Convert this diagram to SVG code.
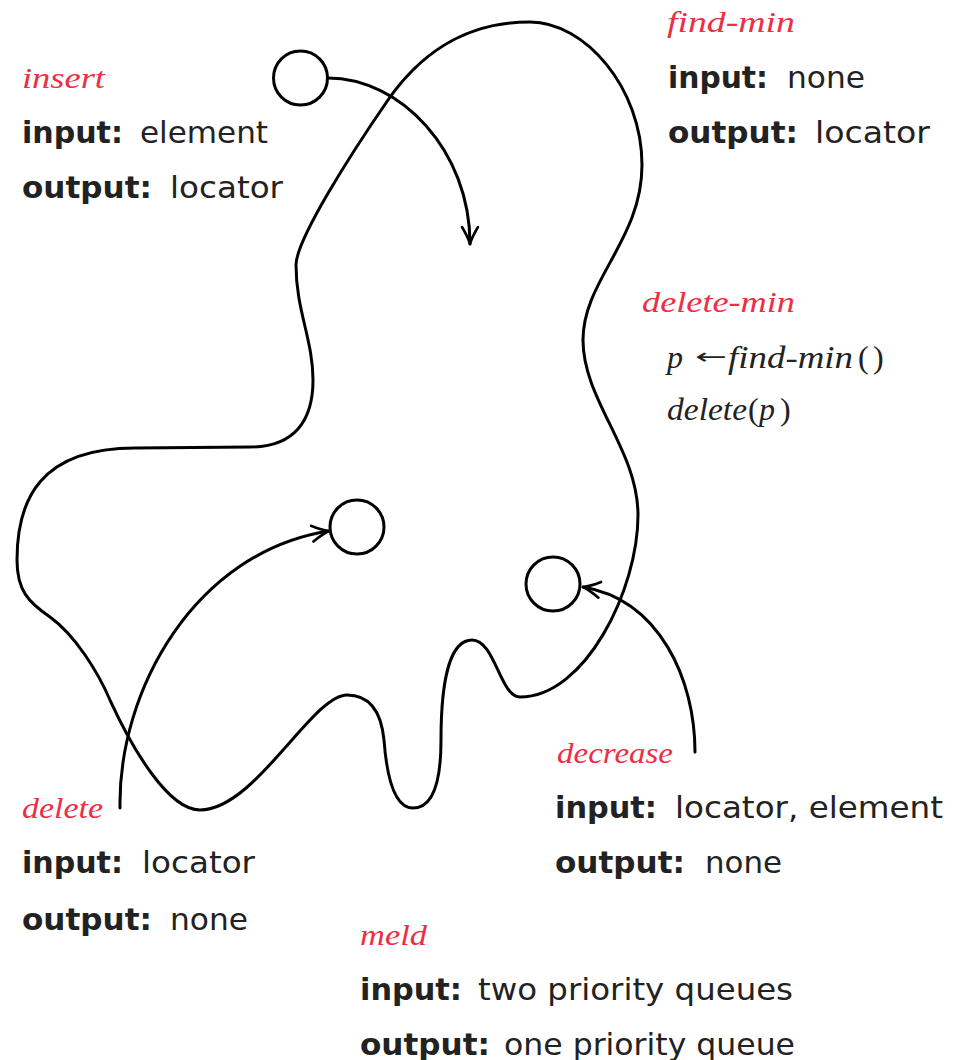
<svg xmlns="http://www.w3.org/2000/svg" width="959" height="1060" viewBox="0 0 959 1060">
<style>
.ln{fill:none;stroke:#000;stroke-width:3;stroke-linecap:round}
.lab{font-family:"Liberation Serif",serif;font-style:italic;font-size:30px;fill:#ec2f45}
.b{font-family:"DejaVu Sans",sans-serif;font-weight:bold;font-size:30px;fill:#222}
.r{font-family:"DejaVu Sans",sans-serif;font-size:30px;fill:#222}
.mi{font-family:"Liberation Serif",serif;font-style:italic;font-size:32px;fill:#222}
.mr{font-family:"Liberation Serif",serif;font-size:32px;fill:#222}
.ar{font-family:"DejaVu Sans",sans-serif;font-size:22px;fill:#222}
</style>
<defs>
<marker id="ah" markerUnits="userSpaceOnUse" viewBox="-20 -10 22 20" refX="0" refY="0" markerWidth="22" markerHeight="20" orient="auto">
<path d="M-17,-8 Q-7,-2 0,0 Q-7,2 -17,8" fill="none" stroke="#000" stroke-width="2.6" stroke-linecap="round" stroke-linejoin="round"/>
</marker>
</defs>
<g id="queue">
<path class="ln" d="M530,22 C585,22 642,88 642,165 C642,240 583,280 583,340 C583,400 638,450 638,515 C638,590 585,697 520,697 C500,697 495,640 472,640 C450,640 441,680 441,740 C441,790 430,808 413,808 C395,808 387,780 384,740 C381,710 368,695 347,695 C312,695 255,810 200,810 C168,810 132,748 110,700 C98,672 75,635 50,617 C28,602 17,590 17,560 C17,500 40,448 135,448 L250,447 C295,447 313,420 313,380 C313,340 296,310 296,265 C296,240 350,155 388,100 C430,40 480,22 530,22 Z"/>
</g>
<g id="node-insert-item"><circle class="ln" cx="300.5" cy="78" r="27"/></g>
<g id="node-delete-item"><circle class="ln" cx="357" cy="527" r="27"/></g>
<g id="node-decrease-item"><circle class="ln" cx="553" cy="584" r="27"/></g>
<g id="connectors">
<path class="ln" d="M328,78 C400,78 470,150 470,244" marker-end="url(#ah)"/>
<path class="ln" d="M120,808 C118,690 195,552 329,531" marker-end="url(#ah)"/>
<path class="ln" d="M695,752 C695,680 660,600 583,587" marker-end="url(#ah)"/>
</g>
<g id="node-insert">
<text class="lab" x="22" y="88" textLength="83" lengthAdjust="spacingAndGlyphs">insert</text>
<text class="b" x="22" y="143" textLength="101" lengthAdjust="spacingAndGlyphs">input:</text>
<text class="r" x="140" y="143" textLength="128" lengthAdjust="spacingAndGlyphs">element</text>
<text class="b" x="22" y="198" textLength="130" lengthAdjust="spacingAndGlyphs">output:</text>
<text class="r" x="170" y="198" textLength="113" lengthAdjust="spacingAndGlyphs">locator</text>
</g>
<g id="node-find-min">
<text class="lab" x="667" y="32" textLength="128" lengthAdjust="spacingAndGlyphs">find-min</text>
<text class="b" x="668" y="88" textLength="100" lengthAdjust="spacingAndGlyphs">input:</text>
<text class="r" x="787" y="88" textLength="78" lengthAdjust="spacingAndGlyphs">none</text>
<text class="b" x="668" y="143" textLength="130" lengthAdjust="spacingAndGlyphs">output:</text>
<text class="r" x="815" y="143" textLength="115" lengthAdjust="spacingAndGlyphs">locator</text>
</g>
<g id="node-delete-min">
<text class="lab" x="642" y="312" textLength="153" lengthAdjust="spacingAndGlyphs">delete-min</text>
<text class="mi" x="667" y="368">p</text>
<text class="ar" x="695" y="364" textLength="32" lengthAdjust="spacingAndGlyphs">←</text>
<text class="mi" x="728" y="368" textLength="125" lengthAdjust="spacingAndGlyphs">find-min</text>
<text class="mr" x="858" y="368">(</text>
<text class="mr" x="873" y="368">)</text>
<text class="mi" x="667" y="420" textLength="80" lengthAdjust="spacingAndGlyphs">delete</text>
<text class="mr" x="748" y="420">(</text>
<text class="mi" x="759" y="420">p</text>
<text class="mr" x="780" y="420">)</text>
</g>
<g id="node-delete">
<text class="lab" x="22" y="818" textLength="81" lengthAdjust="spacingAndGlyphs">delete</text>
<text class="b" x="22" y="873" textLength="101" lengthAdjust="spacingAndGlyphs">input:</text>
<text class="r" x="142" y="873" textLength="113" lengthAdjust="spacingAndGlyphs">locator</text>
<text class="b" x="22" y="930" textLength="130" lengthAdjust="spacingAndGlyphs">output:</text>
<text class="r" x="170" y="930" textLength="78" lengthAdjust="spacingAndGlyphs">none</text>
</g>
<g id="node-decrease">
<text class="lab" x="557" y="763" textLength="116" lengthAdjust="spacingAndGlyphs">decrease</text>
<text class="b" x="555" y="818" textLength="102" lengthAdjust="spacingAndGlyphs">input:</text>
<text class="r" x="675" y="818" textLength="268" lengthAdjust="spacingAndGlyphs">locator, element</text>
<text class="b" x="555" y="873" textLength="130" lengthAdjust="spacingAndGlyphs">output:</text>
<text class="r" x="705" y="873" textLength="77" lengthAdjust="spacingAndGlyphs">none</text>
</g>
<g id="node-meld">
<text class="lab" x="360" y="945" textLength="67" lengthAdjust="spacingAndGlyphs">meld</text>
<text class="b" x="360" y="1000" textLength="102" lengthAdjust="spacingAndGlyphs">input:</text>
<text class="r" x="478" y="1000" textLength="315" lengthAdjust="spacingAndGlyphs">two priority queues</text>
<text class="b" x="360" y="1055" textLength="130" lengthAdjust="spacingAndGlyphs">output:</text>
<text class="r" x="504" y="1055" textLength="291" lengthAdjust="spacingAndGlyphs">one priority queue</text>
</g>
</svg>
